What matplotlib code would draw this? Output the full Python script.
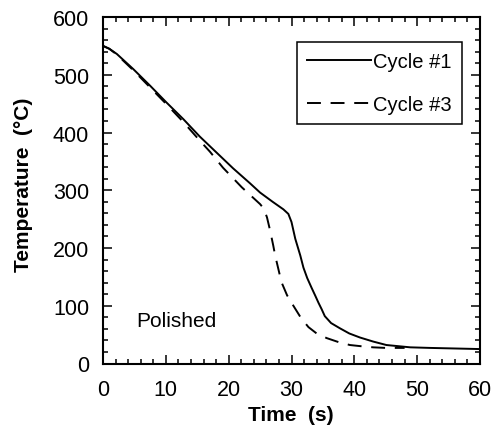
import matplotlib
matplotlib.use("Agg")
import matplotlib.pyplot as plt
from matplotlib.ticker import MultipleLocator

# ---- data ----
t_cycle1 = [0, 1, 2.2, 4.8, 7.5, 10.1, 12.8, 15.4, 18, 20.7, 23.4, 25, 27, 28.7,
            29.5, 30.0, 30.6, 31.4, 31.9, 32.5, 33.2, 33.8, 34.3, 34.8, 35.3,
            36.3, 37.7, 39.2, 40.9, 43, 45.1, 48.9, 52, 56, 60]
T_cycle1 = [550, 545, 536, 510, 481, 452, 423, 393, 366, 338, 312, 296, 280, 267,
            259, 245, 216, 187, 166, 148, 131, 117, 105, 94, 82,
            70, 61, 52, 45, 38, 32, 28, 27, 26, 25]

t_cycle3 = [0, 1, 2.2, 4.8, 7.5, 10.1, 12.8, 15.4, 17, 19.1, 22.1, 25, 25.6,
            26.1, 26.6, 27.1, 27.4, 28.4, 29.3, 30.3, 31.5, 32.7, 34, 35.6,
            37.5, 39.3, 41, 43, 45, 48]
T_cycle3 = [550, 545, 535, 508, 478, 449, 418, 386, 367, 339, 305, 276, 268,
            253, 230, 204, 187, 141, 118, 100, 79, 63, 52, 44,
            37, 32, 30, 28, 27, 27]

labels = ["Cycle #1", "Cycle #3"]
x_ticks = [0, 10, 20, 30, 40, 50, 60]
y_ticks = [0, 100, 200, 300, 400, 500, 600]

plt.rcParams['font.family'] = ['Liberation Sans', 'DejaVu Sans']
plt.rcParams['lines.scale_dashes'] = False

fig = plt.figure(figsize=(4.98, 4.31), dpi=100)
ax = fig.add_axes([103/498, (431-364.5)/431, 377/498, 346.5/431])

ax.plot(t_cycle1, T_cycle1, color='black', lw=1.4, label=labels[0])
ax.plot(t_cycle3, T_cycle3, color='black', lw=1.4, dashes=(10, 7), label=labels[1])

ax.set_xlim(0, 60)
ax.set_ylim(0, 600)
ax.set_xticks(x_ticks)
ax.set_yticks(y_ticks)
ax.xaxis.set_minor_locator(MultipleLocator(2))
ax.yaxis.set_minor_locator(MultipleLocator(20))

ax.tick_params(which='both', direction='in', top=True, right=True, width=1.1,
               colors='black')
ax.tick_params(which='major', length=6.5, labelsize=15.5)
ax.tick_params(axis='x', which='major', pad=11)
ax.tick_params(axis='y', which='major', pad=10)
ax.tick_params(which='minor', length=3.3)
for s in ax.spines.values():
    s.set_linewidth(1.5)
    s.set_color('black')

ax.set_xlabel("Time  (s)", fontsize=15, fontweight='bold')
ax.set_ylabel("Temperature  (\u00b0C)", fontsize=15, fontweight='bold')
ax.xaxis.set_label_coords(0.497, -0.12)
ax.yaxis.set_label_coords(-0.185, 0.518)

ax.text(5.25, 75, "Polished", fontsize=15, va='center', ha='left')

leg = ax.legend(loc='upper right', bbox_to_anchor=(0.952, 0.928),
                borderaxespad=0, fontsize=14.5, frameon=True, fancybox=False,
                framealpha=1, edgecolor='black', handlelength=3.2,
                handletextpad=0.1, labelspacing=1.2, borderpad=0.5)
leg.get_frame().set_linewidth(1.1)

fig.savefig("out.png", dpi=100)
